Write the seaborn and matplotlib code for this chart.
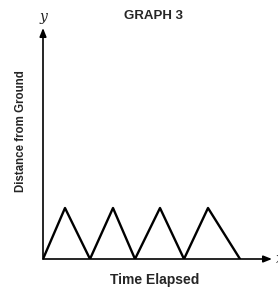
import matplotlib
matplotlib.use("Agg")
import matplotlib.pyplot as plt
import seaborn as sns
import pandas as pd

# data (arbitrary units)
time_elapsed = [0, 22, 47, 70, 92, 117, 141, 165, 197]
distance = [0, 51, 0, 51, 0, 51, 0, 51, 0]
title = "GRAPH 3"
x_label = "Time Elapsed"
y_label = "Distance from Ground"

sns.set_style("white")
plt.rcParams['font.family'] = ['Liberation Sans', 'DejaVu Sans']

df = pd.DataFrame({"t": time_elapsed, "d": distance})

fig = plt.figure(figsize=(2.78, 2.88), dpi=100)
ax = fig.add_axes([43 / 278, 29 / 288, 229 / 278, 231 / 288])
sns.lineplot(data=df, x="t", y="d", color="black", linewidth=1.7, ax=ax)
ax.set_xlim(0, 229)
ax.set_ylim(0, 231)
for s in ax.spines.values():
    s.set_visible(False)
ax.set_xticks([])
ax.set_yticks([])
ax.set_xlabel("")
ax.set_ylabel("")

# axes with arrow heads
arrow = dict(arrowstyle="-|>,head_length=0.5,head_width=0.2", color="black", lw=1.2,
             shrinkA=0, shrinkB=0)
ax.annotate("", xy=(229, 0), xytext=(0, 0), arrowprops=arrow, annotation_clip=False)
ax.annotate("", xy=(0, 231), xytext=(0, 0), arrowprops=arrow, annotation_clip=False)

fig.text(154 / 278, 1 - 16 / 288, title, ha="center", va="center",
         fontsize=9.5, fontweight="bold")
fig.text(155 / 278, 1 - 280 / 288, x_label, ha="center", va="center",
         fontsize=10, fontweight="bold")
fig.text(21 / 278, 1 - 131 / 288, y_label, ha="center", va="center",
         rotation=90, fontsize=8.3, fontweight="bold")
fig.text(43 / 278, 1 - 17 / 288, "y", ha="center", va="center",
         fontsize=10, style="italic", family="DejaVu Serif")
fig.text(276 / 278, 1 - 259 / 288, "x", ha="left", va="center",
         fontsize=10, style="italic", family="DejaVu Serif")

fig.savefig("out.png", dpi=100, facecolor="white")
